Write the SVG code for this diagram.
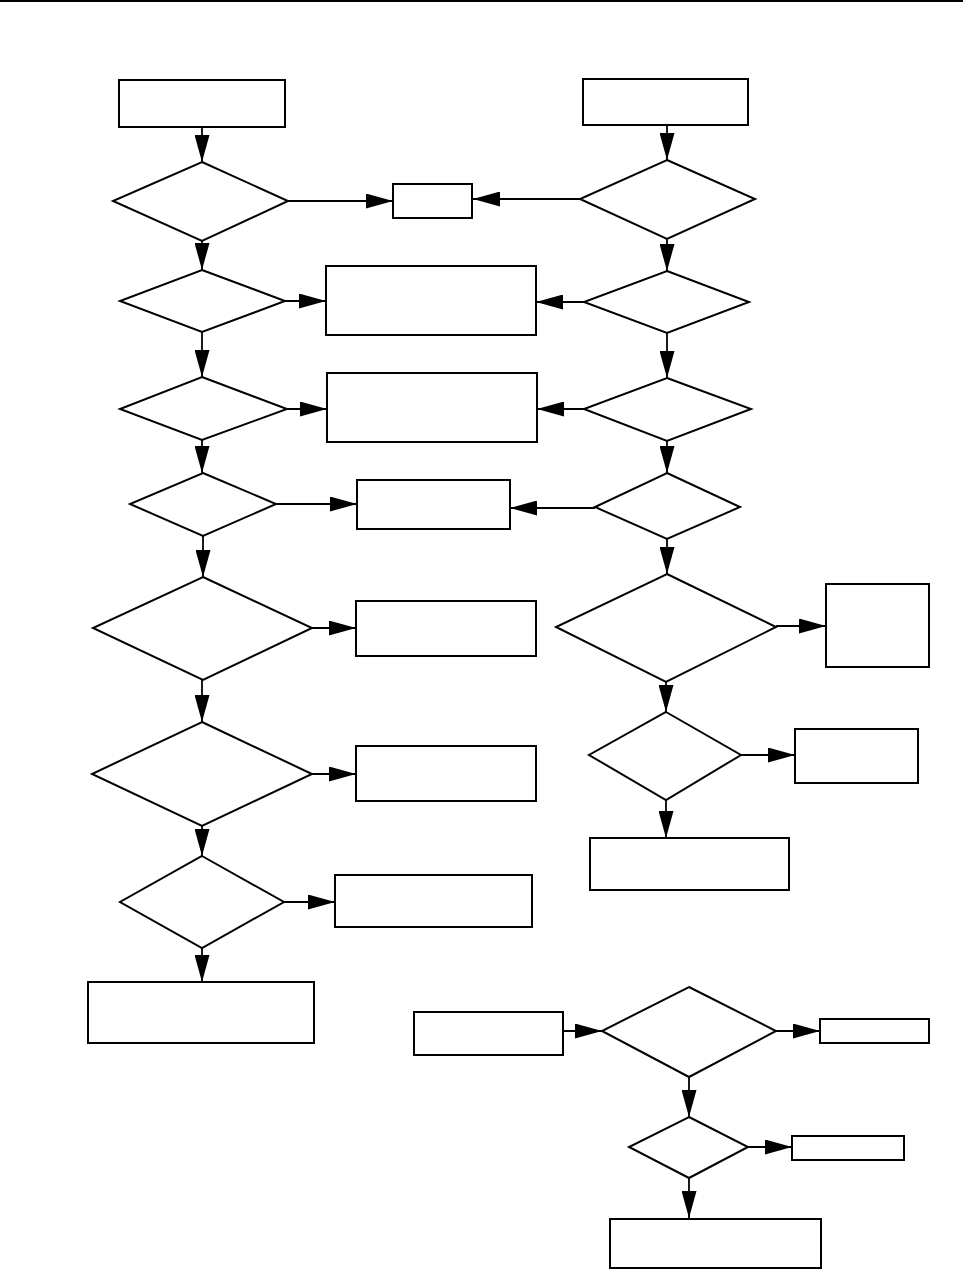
<svg xmlns="http://www.w3.org/2000/svg" width="963" height="1270" viewBox="0 0 963 1270">
<style>
.n{fill:#fff;stroke:#000;stroke-width:2}
.c line{stroke:#000;stroke-width:1.8;marker-end:url(#ah)}
</style>
<defs>
<marker id="ah" markerUnits="userSpaceOnUse" markerWidth="27" markerHeight="15" refX="27" refY="7.5" orient="auto">
<path d="M0,0 L27,7.5 L0,15 z" fill="#000"/>
</marker>
</defs>
<rect x="0" y="0" width="963" height="1270" fill="#fff"/>
<rect x="0" y="0" width="963" height="2" fill="#000"/>
<g class="c" id="connectors">
<line x1="202" y1="127" x2="202" y2="162"/>
<line x1="288" y1="201" x2="393" y2="201"/>
<line x1="580" y1="199" x2="473" y2="199"/>
<line x1="667" y1="125" x2="667" y2="160"/>
<line x1="202" y1="241" x2="202" y2="270"/>
<line x1="667" y1="239" x2="667" y2="271"/>
<line x1="285" y1="301" x2="326" y2="301"/>
<line x1="584" y1="302" x2="536" y2="302"/>
<line x1="202" y1="332" x2="202" y2="377"/>
<line x1="667" y1="333" x2="667" y2="378"/>
<line x1="287" y1="409" x2="327" y2="409"/>
<line x1="584" y1="409" x2="537" y2="409"/>
<line x1="202" y1="440" x2="202" y2="473"/>
<line x1="667" y1="441" x2="667" y2="473"/>
<line x1="276" y1="504" x2="357" y2="504"/>
<line x1="595" y1="508" x2="510" y2="508"/>
<line x1="203" y1="536" x2="203" y2="577"/>
<line x1="667" y1="539" x2="667" y2="574"/>
<line x1="312" y1="628" x2="356" y2="628"/>
<line x1="776" y1="626" x2="826" y2="626"/>
<line x1="202" y1="680" x2="202" y2="722"/>
<line x1="666" y1="682" x2="666" y2="712"/>
<line x1="312" y1="774" x2="356" y2="774"/>
<line x1="741" y1="755" x2="795" y2="755"/>
<line x1="202" y1="826" x2="202" y2="856"/>
<line x1="666" y1="800" x2="666" y2="838"/>
<line x1="284" y1="902" x2="335" y2="902"/>
<line x1="202" y1="948" x2="202" y2="982"/>
<line x1="563" y1="1031" x2="602" y2="1031"/>
<line x1="776" y1="1031" x2="820" y2="1031"/>
<line x1="689" y1="1077" x2="689" y2="1117"/>
<line x1="748" y1="1147" x2="792" y2="1147"/>
<line x1="689" y1="1178" x2="689" y2="1218"/>
</g>
<g id="L1"><rect class="n" x="119" y="80" width="166" height="47"/></g>
<g id="D1L"><polygon class="n" points="202,162 288,201 202,241 113,201"/></g>
<g id="S1"><rect class="n" x="393" y="184" width="79" height="34"/></g>
<g id="R1"><rect class="n" x="583" y="79" width="165" height="46"/></g>
<g id="D1R"><polygon class="n" points="667,160 755,199 667,239 580,199"/></g>
<g id="D2L"><polygon class="n" points="202,270 285,301 202,332 120,301"/></g>
<g id="B2"><rect class="n" x="326" y="266" width="210" height="69"/></g>
<g id="D2R"><polygon class="n" points="667,271 749,302 667,333 584,302"/></g>
<g id="D3L"><polygon class="n" points="202,377 287,409 202,440 120,409"/></g>
<g id="B3"><rect class="n" x="327" y="373" width="210" height="69"/></g>
<g id="D3R"><polygon class="n" points="667,378 751,409 667,441 584,409"/></g>
<g id="D4L"><polygon class="n" points="203,473 276,504 203,536 130,504"/></g>
<g id="B4"><rect class="n" x="357" y="480" width="153" height="49"/></g>
<g id="D4R"><polygon class="n" points="667,473 740,507 667,539 595,507"/></g>
<g id="D5L"><polygon class="n" points="203,577 312,628 203,680 93,628"/></g>
<g id="B5"><rect class="n" x="356" y="601" width="180" height="55"/></g>
<g id="D5R"><polygon class="n" points="667,574 776,627 666,682 556,627"/></g>
<g id="R5"><rect class="n" x="826" y="584" width="103" height="83"/></g>
<g id="D6L"><polygon class="n" points="202,722 312,774 202,826 92,774"/></g>
<g id="B6"><rect class="n" x="356" y="746" width="180" height="55"/></g>
<g id="D6R"><polygon class="n" points="666,712 741,755 666,800 589,755"/></g>
<g id="R6"><rect class="n" x="795" y="729" width="123" height="54"/></g>
<g id="R7"><rect class="n" x="590" y="838" width="199" height="52"/></g>
<g id="D7L"><polygon class="n" points="202,856 284,902 202,948 120,902"/></g>
<g id="B7"><rect class="n" x="335" y="875" width="197" height="52"/></g>
<g id="B8"><rect class="n" x="88" y="982" width="226" height="61"/></g>
<g id="C1"><rect class="n" x="414" y="1012" width="149" height="43"/></g>
<g id="D8"><polygon class="n" points="689,987 776,1031 689,1077 602,1031"/></g>
<g id="C2"><rect class="n" x="820" y="1019" width="109" height="24"/></g>
<g id="D9"><polygon class="n" points="689,1117 748,1147 689,1178 629,1147"/></g>
<g id="C3"><rect class="n" x="792" y="1136" width="112" height="24"/></g>
<g id="C4"><rect class="n" x="610" y="1219" width="211" height="49"/></g>
</svg>
